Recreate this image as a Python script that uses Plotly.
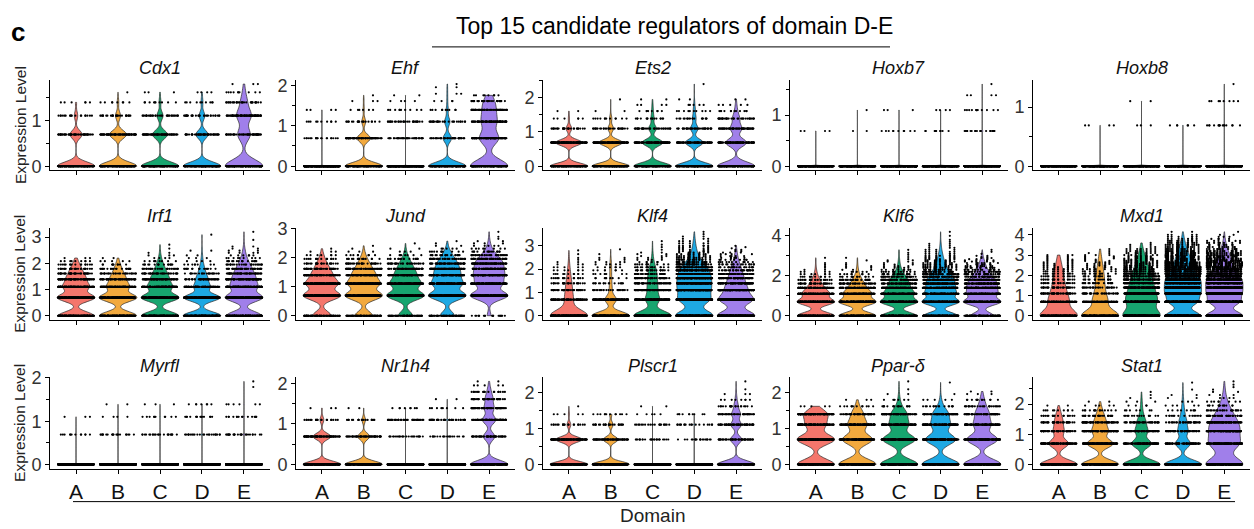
import numpy as np
import plotly.graph_objects as go

W, H = 1254, 529
DOMAINS = ["A", "B", "C", "D", "E"]
GENES = ["Cdx1", "Ehf", "Ets2", "Hoxb7", "Hoxb8",
         "Irf1", "Jund", "Klf4", "Klf6", "Mxd1",
         "Myrfl", "Nr1h4", "Plscr1", "Ppar-δ", "Stat1"]
COLORS = ["#F4766C", "#F2A93E", "#17A56F", "#1EA8E3", "#A07FEA"]

# (expression level, number of cells) for domains A..E
cdx1 = [
    [(0, 200), (0.69, 64), (1.10, 18), (1.39, 6)],
    [(0, 200), (0.69, 90), (1.10, 26), (1.39, 8), (1.61, 1)],
    [(0, 200), (0.69, 80), (1.10, 32), (1.39, 10), (1.61, 3)],
    [(0, 200), (0.69, 64), (1.10, 30), (1.39, 10), (1.61, 4)],
    [(0, 200), (0.69, 66), (1.10, 74), (1.39, 30), (1.61, 10), (1.79, 3)],
]
ehf = [
    [(0, 400), (0.69, 20), (1.10, 10), (1.39, 4)],
    [(0, 200), (0.69, 72), (1.10, 20), (1.39, 6), (1.61, 3), (1.75, 1)],
    [(0, 400), (0.69, 40), (1.10, 30), (1.39, 10), (1.61, 4), (1.75, 2)],
    [(0, 200), (0.69, 45), (1.10, 28), (1.39, 10), (1.61, 4), (1.79, 3), (1.95, 2), (2.03, 1)],
    [(0, 200), (0.69, 100), (1.10, 72), (1.39, 50), (1.61, 35), (1.75, 8)],
]
ets2 = [
    [(0, 200), (0.69, 140), (1.10, 30), (1.39, 6), (1.61, 2)],
    [(0, 200), (0.69, 125), (1.10, 30), (1.39, 12), (1.61, 2), (1.95, 1)],
    [(0, 200), (0.69, 110), (1.10, 40), (1.39, 16), (1.61, 8), (1.79, 4), (1.95, 2)],
    [(0, 200), (0.69, 95), (1.10, 40), (1.39, 18), (1.61, 10), (1.79, 5), (1.95, 2), (2.40, 1)],
    [(0, 200), (0.69, 110), (1.10, 60), (1.39, 35), (1.61, 12), (1.79, 5), (1.95, 2)],
]
hoxb7 = [
    [(0, 400), (0.69, 4)],
    [(0, 400), (0.69, 2), (1.10, 1)],
    [(0, 400), (0.69, 10), (1.10, 3)],
    [(0, 400), (0.69, 10), (1.10, 4)],
    [(0, 400), (0.69, 20), (1.10, 12), (1.39, 4), (1.61, 1)],
]
hoxb8 = [
    [(0, 400)],
    [(0, 400), (0.69, 4)],
    [(0, 400), (0.69, 3), (1.10, 2)],
    [(0, 400), (0.69, 6)],
    [(0, 400), (0.69, 15), (1.10, 8), (1.39, 1)],
]
irf1 = [
    [(0, 190), (0.69, 200), (1.10, 128), (1.39, 80), (1.61, 46), (1.79, 29), (1.95, 16), (2.08, 9), (2.20, 3)],
    [(0, 200), (0.69, 200), (1.10, 109), (1.39, 66), (1.61, 34), (1.79, 20), (1.95, 10), (2.08, 5), (2.20, 2)],
    [(0, 200), (0.69, 200), (1.10, 120), (1.39, 73), (1.61, 43), (1.79, 27), (1.95, 16), (2.08, 9), (2.20, 4),
     (2.30, 3), (2.40, 2), (2.56, 1), (2.71, 1)],
    [(0, 200), (0.69, 190), (1.10, 81), (1.39, 51), (1.61, 25), (1.79, 15), (1.95, 8), (2.08, 4), (2.20, 3),
     (2.30, 2), (2.48, 2), (3.09, 1)],
    [(0, 190), (0.69, 200), (1.10, 127), (1.39, 88), (1.61, 57), (1.79, 39), (1.95, 25), (2.08, 16), (2.20, 9),
     (2.30, 6), (2.40, 4), (2.48, 3), (2.56, 2), (2.64, 2), (2.89, 1), (3.20, 1)],
]
jund = [
    [(0, 100), (0.69, 200), (1.10, 162), (1.39, 86), (1.61, 48), (1.79, 27), (1.95, 14), (2.08, 7), (2.20, 3),
     (2.30, 1)],
    [(0, 95), (0.69, 200), (1.10, 160), (1.39, 96), (1.61, 53), (1.79, 32), (1.95, 16), (2.08, 8), (2.20, 3),
     (2.30, 1), (2.40, 1)],
    [(0, 76), (0.69, 200), (1.10, 151), (1.39, 88), (1.61, 53), (1.79, 32), (1.95, 17), (2.08, 8), (2.20, 3),
     (2.30, 2), (2.48, 1)],
    [(0, 76), (0.69, 200), (1.10, 150), (1.39, 100), (1.61, 74), (1.79, 54), (1.95, 35), (2.08, 20), (2.20, 10),
     (2.30, 5), (2.40, 2), (2.48, 1), (2.56, 1)],
    [(0, 20), (0.69, 200), (1.10, 130), (1.39, 120), (1.61, 80), (1.79, 80), (1.95, 50), (2.08, 30), (2.20, 15),
     (2.30, 8), (2.40, 5), (2.48, 3), (2.56, 2), (2.64, 1), (2.71, 1), (2.88, 1)],
]
klf4 = [
    [(0, 400), (0.69, 79), (1.10, 43), (1.39, 28), (1.61, 15), (1.79, 11), (1.95, 7), (2.08, 5), (2.20, 3),
     (2.30, 2), (2.40, 1), (2.48, 1), (2.64, 1), (2.80, 1)],
    [(0, 400), (0.69, 120), (1.10, 25), (1.39, 17), (1.61, 9), (1.79, 8), (1.95, 7), (2.08, 6), (2.20, 5),
     (2.30, 4), (2.40, 2), (2.48, 2), (2.64, 1), (2.85, 1)],
    [(0, 400), (0.69, 141), (1.10, 82), (1.39, 55), (1.61, 42), (1.79, 34), (1.95, 26), (2.08, 18), (2.20, 11),
     (2.30, 6), (2.40, 4), (2.48, 3), (2.56, 3), (2.64, 2), (2.71, 2), (2.83, 1), (2.94, 1), (3.05, 1), (3.20, 1)],
    [(0, 398), (0.69, 297), (1.10, 228), (1.39, 169), (1.61, 132), (1.79, 112), (1.95, 88), (2.08, 69),
     (2.20, 44), (2.30, 32), (2.40, 22), (2.48, 16), (2.56, 13), (2.64, 10), (2.71, 7), (2.77, 6), (2.83, 5),
     (2.89, 4), (2.94, 4), (3.00, 6), (3.10, 5), (3.20, 4), (3.30, 3), (3.40, 2), (3.50, 1), (3.60, 1)],
    [(0, 400), (0.69, 338), (1.10, 172), (1.39, 102), (1.61, 64), (1.79, 50), (1.95, 35), (2.08, 25), (2.20, 18),
     (2.30, 12), (2.40, 9), (2.48, 6), (2.56, 5), (2.64, 4), (2.71, 3), (2.77, 2), (2.83, 2), (2.89, 1),
     (2.94, 1), (3.00, 1)],
]
klf6 = [
    [(0, 250), (0.69, 246), (1.10, 158), (1.39, 74), (1.61, 40), (1.79, 23), (1.95, 12), (2.08, 7), (2.20, 4),
     (2.30, 2), (2.40, 1), (2.48, 1), (2.56, 1), (2.64, 1), (2.90, 1)],
    [(0, 250), (0.69, 246), (1.10, 164), (1.39, 78), (1.61, 46), (1.79, 28), (1.95, 15), (2.08, 8), (2.20, 5),
     (2.30, 3), (2.40, 2), (2.48, 2), (2.56, 1), (2.64, 1), (2.77, 1), (2.90, 1)],
    [(0, 230), (0.69, 240), (1.10, 172), (1.39, 94), (1.61, 65), (1.79, 50), (1.95, 34), (2.08, 22), (2.20, 13),
     (2.30, 9), (2.40, 5), (2.48, 4), (2.56, 3), (2.64, 2), (2.71, 2), (2.77, 2), (2.83, 1), (2.94, 1),
     (3.05, 1), (3.15, 1), (3.30, 1)],
    [(0, 225), (0.69, 241), (1.10, 171), (1.39, 115), (1.61, 94), (1.79, 75), (1.95, 60), (2.08, 40), (2.20, 29),
     (2.30, 24), (2.40, 18), (2.48, 14), (2.56, 13), (2.64, 11), (2.71, 8), (2.77, 7), (2.83, 6), (2.89, 5),
     (2.94, 5), (3.00, 7), (3.10, 6), (3.20, 5), (3.30, 4), (3.40, 3), (3.50, 2), (3.60, 2), (3.70, 1),
     (3.80, 1), (4.00, 1), (4.20, 1)],
    [(0, 150), (0.69, 241), (1.10, 165), (1.39, 124), (1.61, 94), (1.79, 75), (1.95, 47), (2.08, 33), (2.20, 23),
     (2.30, 17), (2.40, 13), (2.48, 10), (2.56, 9), (2.64, 7), (2.71, 5), (2.77, 4), (2.83, 3), (2.89, 3),
     (2.94, 2), (3.00, 2), (3.10, 1), (3.20, 1), (3.30, 1)],
]
mxd1 = [
    [(0, 291), (0.69, 128), (1.10, 63), (1.39, 39), (1.61, 26), (1.79, 20), (1.95, 16), (2.08, 13), (2.20, 11),
     (2.30, 9), (2.40, 7), (2.48, 6), (2.56, 5), (2.64, 4), (2.71, 3), (2.77, 3), (2.83, 2), (2.89, 2),
     (2.94, 2), (3.00, 3)],
    [(0, 295), (0.69, 101), (1.10, 45), (1.39, 30), (1.61, 21), (1.79, 17), (1.95, 15), (2.08, 12), (2.20, 9),
     (2.30, 8), (2.40, 6), (2.48, 5), (2.56, 5), (2.64, 4), (2.71, 3), (2.77, 2), (2.83, 2), (2.89, 2),
     (2.94, 2), (3.00, 3), (3.10, 2), (3.20, 1), (3.30, 1)],
    [(0, 478), (0.69, 308), (1.10, 180), (1.39, 117), (1.61, 83), (1.79, 68), (1.95, 55), (2.08, 45), (2.20, 33),
     (2.30, 28), (2.40, 23), (2.48, 18), (2.56, 18), (2.64, 17), (2.71, 12), (2.77, 10), (2.83, 10), (2.89, 8),
     (2.94, 8), (3.00, 10), (3.10, 10), (3.20, 8), (3.30, 7), (3.40, 3), (3.50, 2), (3.60, 1)],
    [(0, 499), (0.69, 373), (1.10, 339), (1.39, 236), (1.61, 194), (1.79, 165), (1.95, 138), (2.08, 75),
     (2.20, 64), (2.30, 55), (2.40, 47), (2.48, 40), (2.56, 38), (2.64, 34), (2.71, 28), (2.77, 25), (2.83, 24),
     (2.89, 21), (2.94, 20), (3.00, 28), (3.10, 30), (3.20, 26), (3.30, 22), (3.40, 18), (3.50, 15), (3.60, 12),
     (3.70, 10), (3.80, 8), (3.90, 6), (4.00, 4), (4.15, 2)],
    [(0, 499), (0.69, 380), (1.10, 320), (1.39, 226), (1.61, 190), (1.79, 160), (1.95, 130), (2.08, 70),
     (2.20, 58), (2.30, 50), (2.40, 42), (2.48, 36), (2.56, 34), (2.64, 30), (2.71, 25), (2.77, 22), (2.83, 20),
     (2.89, 18), (2.94, 17), (3.00, 24), (3.10, 24), (3.20, 20), (3.30, 17), (3.40, 13), (3.50, 10), (3.60, 8),
     (3.70, 6), (3.80, 4), (3.90, 3), (4.00, 2), (4.15, 1)],
]
myrfl = [
    [(0, 400), (0.69, 12), (1.10, 3)],
    [(0, 400), (0.69, 20), (1.10, 4), (1.39, 2)],
    [(0, 400), (0.69, 22), (1.10, 10), (1.39, 3)],
    [(0, 400), (0.69, 24), (1.10, 14), (1.39, 7)],
    [(0, 400), (0.69, 25), (1.10, 15), (1.39, 6), (1.79, 1), (1.92, 1)],
]
nr1h4 = [
    [(0, 200), (0.69, 94), (1.10, 20), (1.39, 3)],
    [(0, 200), (0.69, 64), (1.10, 18), (1.39, 2)],
    [(0, 400), (0.69, 25), (1.10, 35), (1.39, 8)],
    [(0, 400), (0.69, 20), (1.10, 35), (1.39, 8), (1.61, 2)],
    [(0, 200), (0.69, 60), (1.10, 70), (1.39, 50), (1.61, 36), (1.79, 18), (1.95, 5), (2.05, 2)],
]
plscr1 = [
    [(0, 200), (0.69, 140), (1.10, 20), (1.39, 5), (1.61, 1)],
    [(0, 200), (0.69, 80), (1.10, 25), (1.39, 12)],
    [(0, 400), (0.69, 25), (1.10, 20), (1.39, 5), (1.61, 2)],
    [(0, 400), (0.69, 20), (1.10, 18), (1.39, 10)],
    [(0, 200), (0.69, 60), (1.10, 55), (1.39, 45), (1.61, 20), (1.79, 8), (1.95, 3), (2.08, 1), (2.30, 1)],
]
ppard = [
    [(0, 200), (0.69, 200), (1.10, 98), (1.39, 117), (1.61, 5)],
    [(0, 200), (0.69, 159), (1.10, 95), (1.39, 55), (1.61, 12), (1.79, 3)],
    [(0, 200), (0.69, 173), (1.10, 95), (1.39, 74), (1.61, 16), (1.79, 6), (1.95, 2), (2.08, 1), (2.30, 1)],
    [(0, 200), (0.69, 160), (1.10, 95), (1.39, 74), (1.61, 16), (1.79, 5), (1.95, 1), (2.27, 1)],
    [(0, 200), (0.69, 163), (1.10, 87), (1.39, 62), (1.61, 25), (1.79, 13), (1.95, 3), (2.02, 2)],
]
stat1 = [
    [(0, 200), (0.69, 105), (1.10, 54), (1.39, 38), (1.61, 19), (1.79, 10), (1.95, 2)],
    [(0, 200), (0.69, 139), (1.10, 82), (1.39, 53), (1.61, 27), (1.79, 15), (1.95, 5), (2.08, 2)],
    [(0, 200), (0.69, 105), (1.10, 64), (1.39, 40), (1.61, 15), (1.79, 7), (1.95, 4), (2.08, 3), (2.20, 2),
     (2.30, 1), (2.40, 1)],
    [(0, 200), (0.69, 80), (1.10, 51), (1.39, 35), (1.61, 15), (1.79, 9), (1.95, 5), (2.08, 3), (2.20, 2),
     (2.30, 2), (2.48, 1), (2.71, 1)],
    [(0, 200), (0.69, 146), (1.10, 110), (1.39, 76), (1.61, 40), (1.79, 24), (1.95, 14), (2.08, 8), (2.20, 4),
     (2.30, 3), (2.40, 2), (2.48, 1), (2.56, 1), (2.64, 1), (2.75, 1)],
]

GENE_DATA = [cdx1, ehf, ets2, hoxb7, hoxb8, irf1, jund, klf4, klf6, mxd1,
             myrfl, nr1h4, plscr1, ppard, stat1]

# kernel bandwidth per violin (style)
BW = [
    [0.09, 0.09, 0.09, 0.09, 0.14],
    [0.008, 0.09, 0.008, 0.1, 0.16],
    [0.09, 0.09, 0.1, 0.1, 0.12],
    [0.008] * 5,
    [0.008] * 5,
    [0.15, 0.15, 0.15, 0.14, 0.16],
    [0.15] * 5,
    [0.25, 0.17, 0.2, 0.22, 0.21],
    [0.17] * 5,
    [0.3, 0.28, 0.3, 0.22, 0.22],
    [0.008] * 5,
    [0.08, 0.08, 0.008, 0.008, 0.1],
    [0.08, 0.08, 0.008, 0.008, 0.1],
    [0.14] * 5,
    [0.14, 0.14, 0.14, 0.14, 0.22],
]
Y_DTICK = [1, 1, 1, 1, 1, 1, 1, 1, 2, 1, 1, 1, 1, 1, 1]
Y_MINOR = [0.5, 0.5, 0.5, 0.5, 0.5, None, None, None, 1, None, 0.5, 0.5, 0.5, 0.5, 0.5]

COL_PX = [(50, 270), (296, 515), (543, 762), (790, 1008), (1033, 1250)]
ROW_PX = [(73, 166), (225, 320), (379, 473)]
FONT = "Liberation Sans, Arial, sans-serif"


def expand(pairs):
    vals = [v for v, n in pairs]
    cnts = [n for v, n in pairs]
    return np.repeat(np.array(vals, dtype=float), cnts)


fig = go.Figure()
layout = dict(
    width=W, height=H, margin=dict(l=0, r=0, t=0, b=0),
    paper_bgcolor="white", plot_bgcolor="white",
    font=dict(family=FONT, color="#222"),
    violinmode="overlay", violingap=0, violingroupgap=0,
    boxmode="overlay", boxgap=0, boxgroupgap=0,
    showlegend=False,
)
annotations = []
shapes = []

# violin bodies
for gi, gene in enumerate(GENES):
    k = gi + 1
    xr = "x" if k == 1 else f"x{k}"
    yr = "y" if k == 1 else f"y{k}"
    data = GENE_DATA[gi]
    for di, dom in enumerate(DOMAINS):
        y = expand(data[di])
        if y.max() == y.min():
            extra = dict(spanmode="manual", span=[0, 0.005])
        else:
            extra = dict(spanmode="hard")
        fig.add_trace(go.Violin(
            x=[dom] * len(y), y=y, xaxis=xr, yaxis=yr, name=dom,
            width=0.9, scalemode="width", bandwidth=BW[gi][di],
            fillcolor=COLORS[di], line=dict(color="#2a2a2a", width=0.7),
            points=False, box_visible=False, meanline_visible=False,
            hoverinfo="skip", showlegend=False, **extra))

# jittered cells: one points layer per expression level (uniform horizontal jitter)
for gi, gene in enumerate(GENES):
    k = gi + 1
    xr = "x" if k == 1 else f"x{k}"
    yr = "y" if k == 1 else f"y{k}"
    data = GENE_DATA[gi]
    levels = sorted({v for dom in data for v, n in dom})
    for lv in levels:
        xs, ys = [], []
        for di, dom in enumerate(DOMAINS):
            for v, n in data[di]:
                if v == lv:
                    xs += [dom] * n
                    ys += [v] * n
        fig.add_trace(go.Box(
            x=xs, y=ys, xaxis=xr, yaxis=yr, width=0.9,
            boxpoints="all", jitter=0.95, pointpos=0,
            fillcolor="rgba(0,0,0,0)", line=dict(width=0, color="rgba(0,0,0,0)"),
            whiskerwidth=0, marker=dict(color="black", size=2.2),
            hoverinfo="skip", showlegend=False))

for gi, gene in enumerate(GENES):
    r, c = divmod(gi, 5)
    k = gi + 1
    xr = "x" if k == 1 else f"x{k}"
    yr = "y" if k == 1 else f"y{k}"
    data = GENE_DATA[gi]
    ymax = max(v for dom in data for v, n in dom)
    x0, x1 = COL_PX[c]
    y0, y1 = ROW_PX[r]
    xa = dict(domain=[x0 / W, x1 / W], anchor=yr, type="category",
              categoryorder="array", categoryarray=DOMAINS,
              range=[-0.62, 4.62], showline=True, linecolor="black", linewidth=1,
              ticks="outside", ticklen=4, tickcolor="black", showgrid=False,
              zeroline=False, showticklabels=(r == 2),
              tickfont=dict(size=21, color="#111", family=FONT))
    ya = dict(domain=[1 - y1 / H, 1 - y0 / H], anchor=xr,
              range=[-0.05 * ymax, 1.05 * ymax], showline=True, linecolor="black",
              linewidth=1, ticks="outside", ticklen=4, tickcolor="black",
              showgrid=False, zeroline=False, tick0=0, dtick=Y_DTICK[gi],
              tickfont=dict(size=18, color="#333", family=FONT))
    if Y_MINOR[gi]:
        ya["minor"] = dict(dtick=Y_MINOR[gi], tick0=0, ticks="outside", ticklen=3,
                           tickcolor="black", showgrid=False)
    layout["xaxis" if k == 1 else f"xaxis{k}"] = xa
    layout["yaxis" if k == 1 else f"yaxis{k}"] = ya
    annotations.append(dict(
        text=f"<i>{gene}</i>", x=(x0 + x1) / 2 / W, y=1 - (y0 - 12) / H,
        xref="paper", yref="paper", showarrow=False, xanchor="center", yanchor="middle",
        font=dict(size=18, color="#111", family=FONT)))

for (y0, y1) in ROW_PX:
    annotations.append(dict(
        text="Expression Level", x=20 / W, y=1 - (y0 + y1) / 2 / H, textangle=-90,
        xref="paper", yref="paper", showarrow=False, xanchor="center", yanchor="middle",
        font=dict(size=15.5, color="#222", family=FONT)))

annotations.append(dict(text="<b>c</b>", x=9 / W, y=1 - 24 / H, xref="paper", yref="paper",
                        showarrow=False, xanchor="left", yanchor="middle",
                        font=dict(size=26, color="black", family=FONT)))
annotations.append(dict(text="Top 15 candidate regulators of domain D-E", x=674 / W, y=1 - 18 / H,
                        xref="paper", yref="paper", showarrow=False, xanchor="center",
                        yanchor="middle", font=dict(size=23, color="black", family=FONT)))
annotations.append(dict(text="Domain", x=652 / W, y=1 - 521 / H, xref="paper", yref="paper",
                        showarrow=False, xanchor="center", yanchor="middle",
                        font=dict(size=19, color="#222", family=FONT)))
shapes.append(dict(type="line", xref="paper", yref="paper", x0=432 / W, x1=890 / W,
                   y0=1 - 39 / H, y1=1 - 39 / H, line=dict(color="black", width=1)))
shapes.append(dict(type="line", xref="paper", yref="paper", x0=73 / W, x1=1235 / W,
                   y0=1 - 507 / H, y1=1 - 507 / H, line=dict(color="black", width=1)))

layout["annotations"] = annotations
layout["shapes"] = shapes
fig.update_layout(**layout)
fig.write_html("out.html")
